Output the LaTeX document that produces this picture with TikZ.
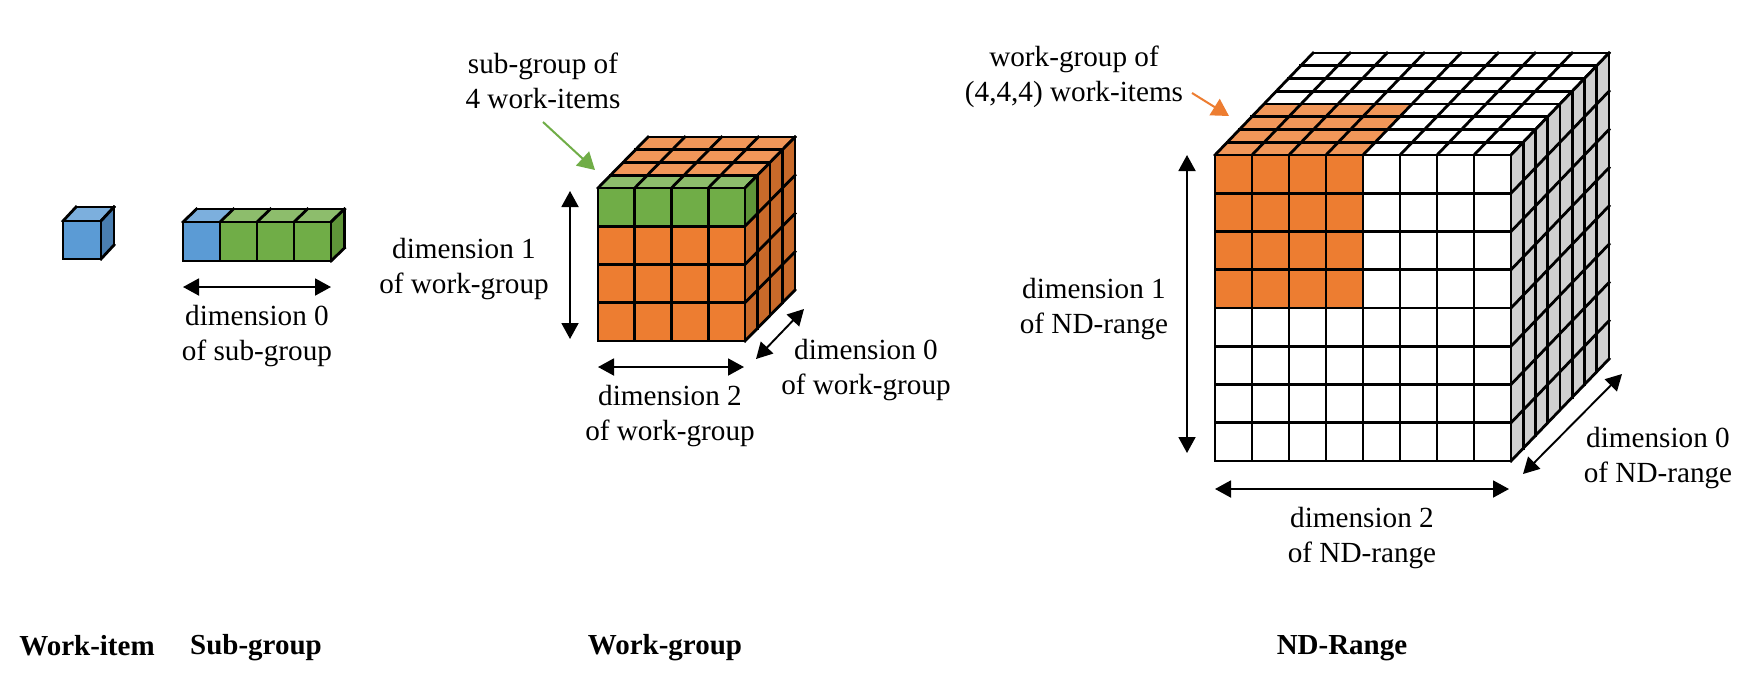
\documentclass[tikz,border=0pt]{standalone}
\usepackage{fontspec}
\setmainfont{Liberation Serif}
\usetikzlibrary{arrows.meta}
\definecolor{bluef}{HTML}{5B9BD5}
\definecolor{bluet}{HTML}{7CAFDD}
\definecolor{blues}{HTML}{4A7EB0}
\definecolor{greenf}{HTML}{70AD47}
\definecolor{greent}{HTML}{8DBD6C}
\definecolor{greens}{HTML}{5F9539}
\definecolor{orangef}{HTML}{ED7D31}
\definecolor{oranget}{HTML}{F19759}
\definecolor{oranges}{HTML}{C96A2A}
\definecolor{greys}{HTML}{D0D0D0}
\tikzset{
  frontface/.style 2 args={x={(#1pt,0pt)},y={(0pt,-#2pt)}},
  topface/.style n args={3}{x={(#1pt,0pt)},y={(#2pt,#3pt)}},
  sideface/.style n args={3}{x={(#1pt,#2pt)},y={(0pt,-#3pt)}},
  gridline/.style={draw=black,line width=2.8pt,line cap=rect,line join=miter},
  dimarrow/.style={{Triangle[length=16pt,width=17pt]}-{Triangle[length=16pt,width=17pt]},line width=1.9pt,black,shorten >=0pt,shorten <=0pt},
  callout/.style={-{Triangle[length=17pt,width=19pt]},line width=2pt},
  lab/.style={align=center,inner sep=0pt,font=\fontsize{29.2pt}{35.5pt}\selectfont},
  title/.style={inner sep=0pt,font=\fontsize{29pt}{32pt}\selectfont\bfseries}
}
\newcommand{\cellfill}[5]{\fill[#5] (#1,#2)--(#3,#2)--(#3,#4)--(#1,#4)--cycle;}
\newcommand{\facelines}[2]{%
  \foreach \i in {0,...,#1}{\draw[gridline] (\i,0)--(\i,#2);}
  \foreach \j in {0,...,#2}{\draw[gridline] (0,\j)--(#1,\j);}}
\begin{document}
\begin{tikzpicture}[x=1pt,y=-1pt]
\useasboundingbox (0,0) rectangle (1752,686);
\fill[white] (0,0) rectangle (1752,686);

% Work-item
\begin{scope}[shift={(63,221)}]
 \begin{scope}[topface={38}{13}{14}] \cellfill{0}{0}{1}{1}{bluet} \facelines{1}{1} \end{scope}
 \begin{scope}[shift={(38,0)},sideface={13}{14}{38}] \cellfill{0}{0}{1}{1}{blues} \facelines{1}{1} \end{scope}
 \begin{scope}[frontface={38}{38}] \cellfill{0}{0}{1}{1}{bluef} \facelines{1}{1} \end{scope}
\end{scope}

% Sub-group
\begin{scope}[shift={(183,222)}]
 \begin{scope}[topface={37}{13.5}{13}] \cellfill{0}{0}{1}{1}{bluet} \cellfill{1}{0}{4}{1}{greent} \facelines{4}{1} \end{scope}
 \begin{scope}[shift={(148,0)},sideface={13.5}{13}{39}] \cellfill{0}{0}{1}{1}{greens} \facelines{1}{1} \end{scope}
 \begin{scope}[frontface={37}{39}] \cellfill{0}{0}{1}{1}{bluef} \cellfill{1}{0}{4}{1}{greenf} \facelines{4}{1} \end{scope}
\end{scope}

% Work-group
\begin{scope}[shift={(598,188)}]
 \begin{scope}[topface={36.75}{12.5}{12.75}] \cellfill{0}{0}{4}{4}{oranget} \cellfill{0}{0}{4}{1}{greent} \facelines{4}{4} \end{scope}
 \begin{scope}[shift={(147,0)},sideface={12.5}{12.75}{38.25}] \cellfill{0}{0}{4}{4}{oranges} \cellfill{0}{0}{1}{1}{greens} \facelines{4}{4} \end{scope}
 \begin{scope}[frontface={36.75}{38.25}] \cellfill{0}{0}{4}{4}{orangef} \cellfill{0}{0}{4}{1}{greenf} \facelines{4}{4} \end{scope}
\end{scope}

% ND-range
\begin{scope}[shift={(1215,155)}]
 \begin{scope}[topface={37}{12.25}{12.75}] \cellfill{0}{0}{4}{4}{oranget} \facelines{8}{8} \end{scope}
 \begin{scope}[shift={(296,0)},sideface={12.25}{12.75}{38.25}] \cellfill{0}{0}{8}{8}{greys} \facelines{8}{8} \end{scope}
 \begin{scope}[frontface={37}{38.25}] \cellfill{0}{0}{4}{4}{orangef} \facelines{8}{8} \end{scope}
\end{scope}

% Arrow end points
\coordinate (sgL) at (183,287); \coordinate (sgR) at (331,287);
\coordinate (wgT) at (570,191); \coordinate (wgB) at (570,339);
\coordinate (wgL) at (598,367); \coordinate (wgR) at (744,367);
\coordinate (wdA) at (756,359); \coordinate (wdB) at (804,309);
\coordinate (grA) at (543,122); \coordinate (grB) at (595,170);
\coordinate (orA) at (1192,93); \coordinate (orB) at (1229,116);
\coordinate (ndT) at (1187,155); \coordinate (ndB) at (1187,453);
\coordinate (ndL) at (1215,489); \coordinate (ndR) at (1509,489);
\coordinate (ndA) at (1523,474); \coordinate (ndC) at (1622,374);

\draw[dimarrow] (sgL)--(sgR);
\draw[dimarrow] (wgT)--(wgB);
\draw[dimarrow] (wgL)--(wgR);
\draw[dimarrow] (wdA)--(wdB);
\draw[dimarrow] (ndT)--(ndB);
\draw[dimarrow] (ndL)--(ndR);
\draw[dimarrow] (ndA)--(ndC);
\draw[callout,greenf] (grA)--(grB);
\draw[callout,orangef] (orA)--(orB);

% Labels
\node[lab] (l1) at (543,81) {sub-group of\\4 work-items};
\node[lab] (l2) at (257,336) {dimension 0\\of sub-group};
\node[lab] (l3) at (464,269) {dimension 1\\of work-group};
\node[lab] (l4) at (670,416) {dimension 2\\of work-group};
\node[lab] (l5) at (866,370) {dimension 0\\of work-group};
\node[lab] (l6) at (1074,77) {work-group of\\(4,4,4) work-items};
\node[lab] (l7) at (1094,309) {dimension 1\\of ND-range};
\node[lab] (l8) at (1362,538) {dimension 2\\of ND-range};
\node[lab] (l9) at (1658,458) {dimension 0\\of ND-range};

\node[title,anchor=base] (t1) at (87,655) {Work-item};
\node[title,anchor=base] (t2) at (256,654) {Sub-group};
\node[title,anchor=base] (t3) at (665,654) {Work-group};
\node[title,anchor=base] (t4) at (1342,654) {ND-Range};
\end{tikzpicture}
\end{document}
